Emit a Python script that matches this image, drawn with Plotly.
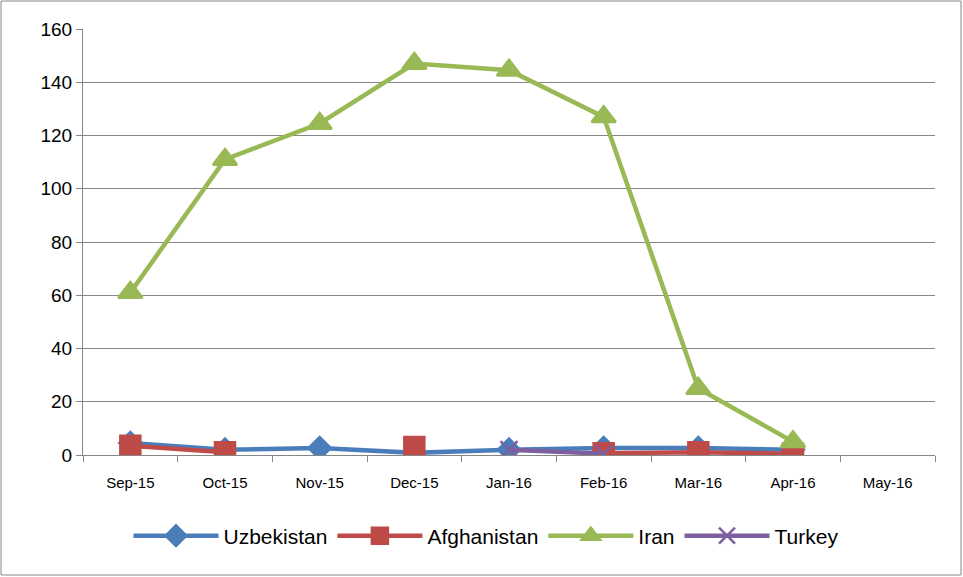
import plotly.graph_objects as go

months = ["Sep-15", "Oct-15", "Nov-15", "Dec-15", "Jan-16", "Feb-16", "Mar-16", "Apr-16", "May-16"]
uzbekistan = [4.5, 2, 2.6, 0.8, 2, 2.6, 2.6, 2, None]
afghanistan = [3.5, 1, None, 3, None, 0.7, 1, 0.5, None]
iran = [61, 111, 124.5, 147, 144.5, 127, 25, 5, None]
turkey = [None, None, None, None, 2, 0.5, None, None, None]

W, H = 963, 577
L, R, T, B = 83, 28, 29, 122
pw, ph = W - L - R, H - T - B

fig = go.Figure()
series = [
    ("Uzbekistan", uzbekistan, "#4A7EBB", "diamond", 17),
    ("Afghanistan", afghanistan, "#BE4B48", "square", 20),
    ("Iran", iran, "#98B954", "triangle-up", 21),
    ("Turkey", turkey, "#7D5FA0", "x-thin", 17),
]
for name, vals, col, sym, sz in series:
    fig.add_trace(go.Scatter(
        x=months, y=vals, name=name, mode="lines+markers",
        line=dict(color=col, width=4.5),
        marker=dict(symbol=sym, size=sz, color=col, line=dict(color=col, width=2.5)),
        connectgaps=False,
    ))

fig.update_layout(
    width=W, height=H,
    margin=dict(l=L, r=R, t=T, b=B),
    plot_bgcolor="white", paper_bgcolor="white",
    font=dict(family="Liberation Sans, sans-serif", color="#000000"),
    xaxis=dict(type="category", range=[-0.5, 8.5], showgrid=False,
               showline=True, linecolor="#868686", linewidth=1,
               ticks="outside", tickson="boundaries", ticklen=6, tickcolor="#868686",
               tickfont=dict(size=15), ticklabelstandoff=14,
               categoryorder="array", categoryarray=months),
    yaxis=dict(range=[0, 160], dtick=20, showgrid=True, gridcolor="#868686", gridwidth=1,
               showline=True, linecolor="#868686", linewidth=1,
               ticks="outside", ticklen=6, tickcolor="#868686",
               tickfont=dict(size=19), zeroline=False),
    legend=dict(orientation="h", x=(486 - L) / pw, xanchor="center", y=(455 - 536) / ph, yanchor="middle",
                font=dict(size=21), itemwidth=85, traceorder="normal"),
    shapes=[dict(type="rect", xref="paper", yref="paper",
                 x0=(1 - L) / pw, x1=(W - 2 - L) / pw,
                 y0=-(H - 2 - T - ph) / ph, y1=(T - 1) / ph + 1,
                 line=dict(color="#868686", width=1), layer="below")],
)

fig.write_html("out.html")
